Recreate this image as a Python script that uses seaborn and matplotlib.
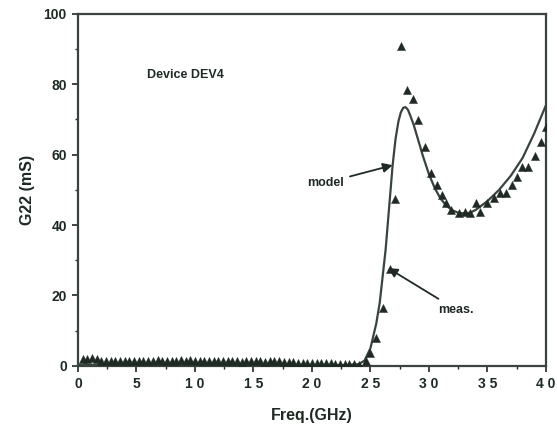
import matplotlib
matplotlib.use("Agg")
import matplotlib.pyplot as plt
import seaborn as sns
import pandas as pd
from matplotlib.ticker import MultipleLocator

# ---------------- data ----------------
meas_freq = [0.4, 0.8, 1.2, 1.6, 2.0, 2.4, 2.8, 3.2, 3.6, 4.0, 4.4, 4.8, 5.2, 5.6, 6.0,
             6.4, 6.8, 7.2, 7.6, 8.0, 8.4, 8.8, 9.2, 9.6, 10.0, 10.4, 10.8, 11.2, 11.6, 12.0,
             12.4, 12.8, 13.2, 13.6, 14.0, 14.4, 14.8, 15.2, 15.6, 16.0, 16.4, 16.8, 17.2, 17.6, 18.0,
             18.4, 18.8, 19.2, 19.6, 20.0, 20.4, 20.8, 21.2, 21.6, 22.0, 22.4, 22.8, 23.2, 23.6, 24.0,
             24.6, 25.0, 25.5, 26.1, 26.7, 27.1, 27.6, 28.1, 28.6, 29.1, 29.7, 30.2, 30.7, 31.1,
             31.5, 31.9, 32.6, 33.1, 33.5, 34.0, 34.4, 35.0, 35.6, 36.1, 36.6, 37.1, 37.5, 38.0,
             38.5, 39.1, 39.6, 40.0]
meas_g22 = [2.0, 2.0, 2.1, 1.9, 1.5, 1.4, 1.5, 1.4, 1.5, 1.4, 1.5, 1.4, 1.5, 1.5, 1.4,
            1.5, 1.6, 1.4, 1.5, 1.5, 1.4, 1.6, 1.5, 1.7, 1.5, 1.4, 1.3, 1.5, 1.3, 1.4,
            1.5, 1.3, 1.4, 1.3, 1.2, 1.4, 1.3, 1.3, 1.4, 1.2, 1.3, 1.4, 1.3, 1.0, 1.1,
            1.0, 0.9, 0.9, 0.8, 0.9, 0.8, 0.7, 0.8, 0.7, 0.6, 0.6, 0.5, 0.5, 0.5, 0.3,
            1.4, 3.7, 8.0, 16.5, 27.6, 47.4, 91.0, 78.4, 75.8, 69.9, 62.2, 54.8, 51.4, 48.6,
            46.3, 44.3, 43.5, 43.8, 43.5, 46.3, 43.8, 46.3, 47.7, 49.1, 49.1, 51.4, 53.7, 56.5,
            56.5, 59.7, 63.6, 67.9]

model_freq = [0, 5, 10, 15, 20, 23, 24, 24.5, 25, 25.5, 25.8, 26.3, 26.6, 26.9, 27.15,
              27.4, 27.6, 27.8, 28.0, 28.2, 28.4, 28.7, 29.1, 29.5, 30, 30.5, 31, 31.5,
              32, 32.5, 33, 33.5, 34, 35, 36, 37, 38, 39, 40]
model_g22 = [0.3, 0.3, 0.3, 0.3, 0.2, 0.2, 0.5, 1.5, 5.0, 12.0, 18.0, 33.0, 45.0, 57.0, 64.5,
             69.5, 72.0, 73.3, 73.5, 72.8, 71.2, 68.5, 64.0, 59.5, 54.5, 50.5, 47.5, 45.5,
             44.2, 43.5, 43.3, 43.5, 44.3, 46.8, 50.0, 54.0, 59.0, 66.0, 74.0]

x_ticks = [0, 5, 10, 15, 20, 25, 30, 35, 40]
y_ticks = [0, 20, 40, 60, 80, 100]

# ---------------- style ----------------
sns.set_style("ticks")
plt.rcParams["font.family"] = ["Liberation Sans", "DejaVu Sans"]
INK = "#1e2a23"

fig = plt.figure(figsize=(5.57, 4.33), dpi=100)
ax = fig.add_axes([0.140, 0.155, 0.840, 0.813])

meas_df = pd.DataFrame({"freq": meas_freq, "g22": meas_g22})
model_df = pd.DataFrame({"freq": model_freq, "g22": model_g22})

sns.lineplot(data=model_df, x="freq", y="g22", ax=ax, color="#3a443e",
             linewidth=1.6, sort=True, estimator=None, zorder=2)
sns.scatterplot(data=meas_df, x="freq", y="g22", ax=ax, marker="^", s=34,
                color=INK, edgecolor=INK, linewidth=0.3, zorder=3)

ax.set_xlim(0, 40)
ax.set_ylim(0, 100)
ax.set_xticks(x_ticks)
ax.set_yticks(y_ticks)
ax.xaxis.set_minor_locator(MultipleLocator(2.5))
ax.yaxis.set_minor_locator(MultipleLocator(10))
ax.tick_params(axis="both", which="major", direction="out", length=4, width=1.2,
               colors=INK, labelsize=10, pad=4)
ax.tick_params(axis="both", which="minor", direction="out", length=2.5, width=1.0, colors=INK)
ax.set_xticklabels([" ".join(str(t)) for t in x_ticks])
for lab in ax.get_xticklabels() + ax.get_yticklabels():
    lab.set_fontweight("bold")

for sp in ax.spines.values():
    sp.set_visible(True)
    sp.set_color("#3a443e")
    sp.set_linewidth(1.6)

ax.set_xlabel("Freq.(GHz)", fontsize=11.5, fontweight="bold", color=INK, labelpad=12)
ax.set_ylabel("G22 (mS)", fontsize=11.5, fontweight="bold", color=INK, labelpad=6)

ax.text(5.9, 82.7, "Device DEV4", fontsize=9, fontweight="bold", color=INK,
        ha="left", va="center")

ax.annotate("model", xy=(26.9, 57.0), xytext=(19.6, 52.0), fontsize=9,
            fontweight="bold", color=INK, ha="left", va="center",
            arrowprops=dict(arrowstyle="-|>", color=INK, lw=1.3, shrinkA=2, shrinkB=0,
                            mutation_scale=14))
ax.annotate("meas.", xy=(26.5, 27.8), xytext=(30.8, 16.0), fontsize=9,
            fontweight="bold", color=INK, ha="left", va="center",
            arrowprops=dict(arrowstyle="-|>", color=INK, lw=1.3, shrinkA=2, shrinkB=0,
                            mutation_scale=14))

fig.savefig("out.png", dpi=100)
